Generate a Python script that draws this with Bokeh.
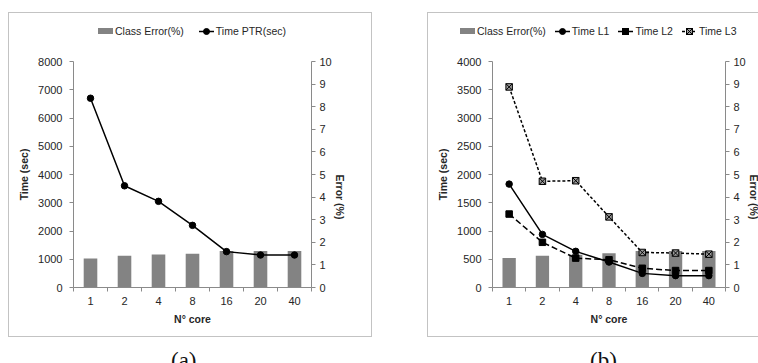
import math
from bokeh.plotting import figure
from bokeh.models import Range1d, LinearAxis, FixedTicker, Div, Spacer
from bokeh.layouts import row, column
from bokeh.embed import file_html
from bokeh.resources import INLINE

# ---------------- data ----------------
cores = ["1", "2", "4", "8", "16", "20", "40"]

err_a = [1.28, 1.40, 1.46, 1.49, 1.62, 1.62, 1.62]
time_ptr = [6700, 3600, 3050, 2200, 1270, 1150, 1150]

err_b = [1.30, 1.40, 1.45, 1.51, 1.62, 1.62, 1.62]
time_l1 = [1830, 940, 640, 450, 250, 210, 210]
time_l2 = [1300, 800, 520, 490, 340, 300, 300]
time_l3 = [3550, 1880, 1890, 1250, 620, 610, 590]

time_ticks_a = [0, 1000, 2000, 3000, 4000, 5000, 6000, 7000, 8000]
time_ticks_b = [0, 500, 1000, 1500, 2000, 2500, 3000, 3500, 4000]
err_ticks = [0, 1, 2, 3, 4, 5, 6, 7, 8, 9, 10]

bar_label = "Class Error(%)"

FONT = "Liberation Sans"
TXT = "#262626"
AXC = "#8a8a8a"
BAR = "#838383"
BORDER = "#c3c3c3"
PANEL_H = 315
LEG_H = 28
FIG_H = PANEL_H - LEG_H


def marker_svg(marker, fill):
    if marker == "circle":
        return f'<circle cx="7.5" cy="4.5" r="3" fill="{fill}" stroke="black" stroke-width="1"/>'
    if marker == "square":
        return f'<rect x="4.5" y="1.5" width="6" height="6" fill="{fill}" stroke="black" stroke-width="1"/>'
    return (f'<rect x="4.5" y="1.5" width="6" height="6" fill="{fill}" stroke="black" stroke-width="1"/>'
            '<line x1="4.5" y1="1.5" x2="10.5" y2="7.5" stroke="black" stroke-width="1"/>'
            '<line x1="10.5" y1="1.5" x2="4.5" y2="7.5" stroke="black" stroke-width="1"/>')


def legend_div(series, width, pad_left, gap):
    parts = [f'<span style="display:inline-block;width:15px;height:6px;background:{BAR};'
             f'margin-right:2px;"></span><span>{bar_label}</span>']
    for (label, ys, dash, marker, fill) in series:
        da = "" if dash == "solid" else f' stroke-dasharray="{dash}"'
        svg = (f'<svg width="15" height="9" style="display:inline-block;margin-right:2px;">'
               f'<line x1="0" y1="4.5" x2="15" y2="4.5" stroke="black" stroke-width="1.5"{da}/>'
               f'{marker_svg(marker, fill)}</svg>')
        parts.append(f'<span style="display:inline-block;width:{gap}px;"></span>{svg}<span>{label}</span>')
    html = (f'<div style="display:flex;align-items:center;height:22px;padding-top:6px;'
            f'padding-left:{pad_left}px;font-family:\'{FONT}\';font-size:10.5px;color:{TXT};'
            f'white-space:nowrap;margin:0;">' + "".join(parts) + '</div>')
    return Div(text=html, width=width, height=LEG_H)


def make_panel(errs, series, ymax, yticks, width, mbl, mbr):
    xs = list(range(1, len(cores) + 1))
    p = figure(width=width, height=FIG_H, x_range=Range1d(0.5, len(cores) + 0.5),
               y_range=Range1d(0, ymax), output_backend="svg", toolbar_location=None,
               min_border_left=mbl, min_border_right=mbr, min_border_top=11,
               min_border_bottom=50)
    p.extra_y_ranges = {"err": Range1d(0, 10)}
    p.xgrid.visible = False
    p.ygrid.visible = False
    p.outline_line_color = None
    p.border_fill_color = None
    p.background_fill_color = None

    p.vbar(x=xs, top=errs, width=0.4, y_range_name="err", fill_color=BAR, line_color=None)
    for (label, ys, dash, marker, fill) in series:
        p.line(xs, ys, line_color="black", line_width=1.5, line_dash=dash)
        p.scatter(xs, ys, marker=marker, size=6.5, fill_color=fill,
                  line_color="black", line_width=1)

    xa = p.xaxis[0]
    xa.ticker = FixedTicker(ticks=xs, minor_ticks=[x - 0.5 for x in xs] + [len(xs) + 0.5])
    xa.major_label_overrides = {x: c for x, c in zip(xs, cores)}
    xa.major_tick_out = 0
    xa.major_tick_in = 0
    xa.minor_tick_out = 4
    xa.minor_tick_in = 0
    xa.axis_label = "N° core"

    ya = p.yaxis[0]
    ya.ticker = FixedTicker(ticks=yticks)
    ya.axis_label = "Time (sec)"

    ra = LinearAxis(y_range_name="err", ticker=FixedTicker(ticks=err_ticks),
                    axis_label="Error (%)")
    p.add_layout(ra, "right")
    try:
        ra.axis_label_orientation = -math.pi / 2
    except Exception:
        pass

    for ax in [xa, ya, ra]:
        ax.axis_line_color = AXC
        ax.major_tick_line_color = AXC
        ax.minor_tick_line_color = AXC
        ax.major_label_text_font = FONT
        ax.major_label_text_font_size = "11px"
        ax.major_label_text_color = TXT
        ax.axis_label_text_font = FONT
        ax.axis_label_text_font_size = "10.5px"
        ax.axis_label_text_font_style = "bold"
        ax.axis_label_text_color = TXT
        ax.axis_label_standoff = 5
    for ax in [ya, ra]:
        ax.major_tick_out = 4
        ax.major_tick_in = 0
        ax.minor_tick_out = 0
        ax.minor_tick_in = 0
    ya.major_label_standoff = 7
    ra.major_label_standoff = 4
    xa.major_label_standoff = 5
    return p


series_a = [("Time PTR(sec)", time_ptr, "solid", "circle", "black")]
series_b = [("Time L1", time_l1, "solid", "circle", "black"),
            ("Time L2", time_l2, "6 3", "square", "black"),
            ("Time L3", time_l3, "3 2", "square_x", "#9a9a9a")]

pa = make_panel(err_a, series_a, 8000, time_ticks_a, 354, 65, 51)
pb = make_panel(err_b, series_b, 4000, time_ticks_b, 341, 65, 37)

panel_a = column(legend_div(series_a, 354, 85, 15), pa,
                 styles={"box-shadow": f"inset 0 0 0 1px {BORDER}"})
panel_b = column(legend_div(series_b, 341, 28, 9), pb,
                 styles={"box-shadow": f"inset 1px 0 0 0 {BORDER}, inset 0 1px 0 0 {BORDER}, "
                                       f"inset 0 -1px 0 0 {BORDER}"})

cap_style = ("font-family:'Liberation Serif';font-size:23px;line-height:26px;"
             "padding-top:6px;padding-left:158px;margin:0;color:#111;")
da = Div(text=f'<div style="{cap_style}">(a)</div>', width=354, height=36)
db = Div(text=f'<div style="{cap_style}">(b)</div>', width=341, height=36)

layout = column(Spacer(width=758, height=12),
                row(Spacer(width=8, height=PANEL_H), panel_a, Spacer(width=55, height=PANEL_H), panel_b),
                row(Spacer(width=8, height=36), da, Spacer(width=55, height=36), db))

open("out.html", "w").write(file_html(layout, INLINE))
